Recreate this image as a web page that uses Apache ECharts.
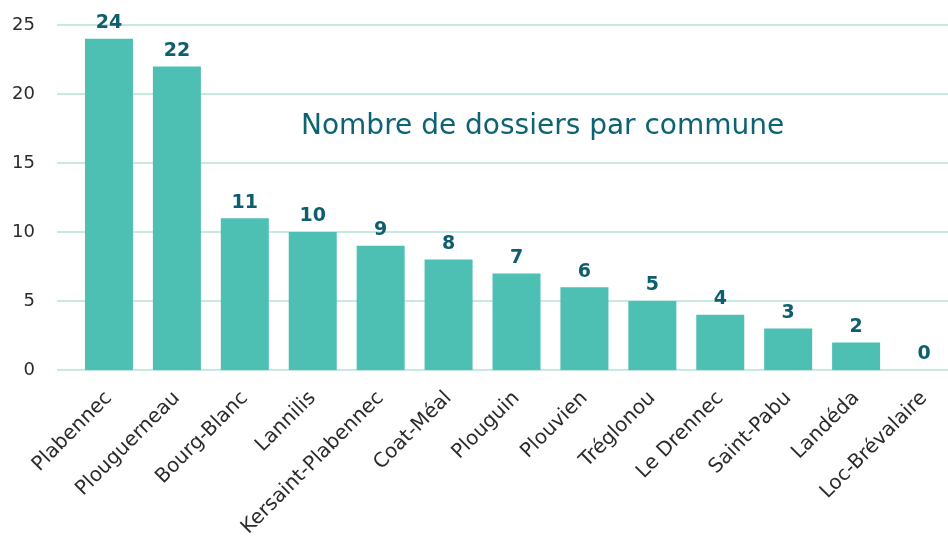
<!DOCTYPE html>
<html>
<head>
<meta charset="utf-8">
<script src="https://cdn.jsdelivr.net/npm/echarts@6/dist/echarts.min.js"></script>
<style>
  html, body { margin: 0; padding: 0; background: #fff; }
  #chart { width: 948px; height: 540px; }
</style>
</head>
<body>
<div id="chart"></div>
<script>
// Communes and number of files per commune
const communes = ['Plabennec', 'Plouguerneau', 'Bourg-Blanc', 'Lannilis', 'Kersaint-Plabennec',
  'Coat-Méal', 'Plouguin', 'Plouvien', 'Tréglonou', 'Le Drennec', 'Saint-Pabu', 'Landéda', 'Loc-Brévalaire'];
const dossiers = [24, 22, 11, 10, 9, 8, 7, 6, 5, 4, 3, 2, 0];
const yTicks = [0, 5, 10, 15, 20, 25];
const titre = 'Nombre de dossiers par commune';

const font = 'DejaVu Sans';
const chart = echarts.init(document.getElementById('chart'));

chart.setOption({
  animation: false,
  title: {
    text: titre,
    left: 296, top: 108,
    textStyle: { fontFamily: font, fontWeight: 'normal', fontSize: 28, color: '#0E6373' }
  },
  grid: [
    // background grid with value axis and gridlines
    { left: 57, right: 0, top: 25, bottom: 170, containLabel: false, outerBoundsMode: 'none' },
    // bars, their band running slightly past the right edge
    { left: 75, width: 883, top: 25, bottom: 170, containLabel: false, outerBoundsMode: 'none' }
  ],
  xAxis: [
    { gridIndex: 0, type: 'value', show: false, min: 0, max: 1 },
    {
      gridIndex: 1, type: 'category', data: communes,
      axisLine: { show: false }, axisTick: { show: false },
      axisLabel: { rotate: 45, interval: 0, margin: 25, fontFamily: font, fontSize: 20, color: '#2b2b2b' }
    }
  ],
  yAxis: [
    {
      gridIndex: 0, type: 'value', min: yTicks[0], max: yTicks[yTicks.length - 1], interval: 5,
      axisLine: { show: false }, axisTick: { show: false },
      axisLabel: { margin: 22, fontFamily: font, fontSize: 18, color: '#2b2b2b' },
      splitLine: { lineStyle: { color: '#B4E2DB', width: 1.5 } }
    },
    {
      gridIndex: 1, type: 'value', min: yTicks[0], max: yTicks[yTicks.length - 1], interval: 5,
      show: false
    }
  ],
  series: [{
    type: 'bar',
    xAxisIndex: 1, yAxisIndex: 1,
    data: dossiers,
    barWidth: 48,
    itemStyle: { color: '#4DBFB3' },
    label: {
      show: true, position: 'top', distance: 6,
      fontFamily: font, fontWeight: 'bold', fontSize: 19, color: '#0E5E6F'
    }
  }]
});
</script>
</body>
</html>
